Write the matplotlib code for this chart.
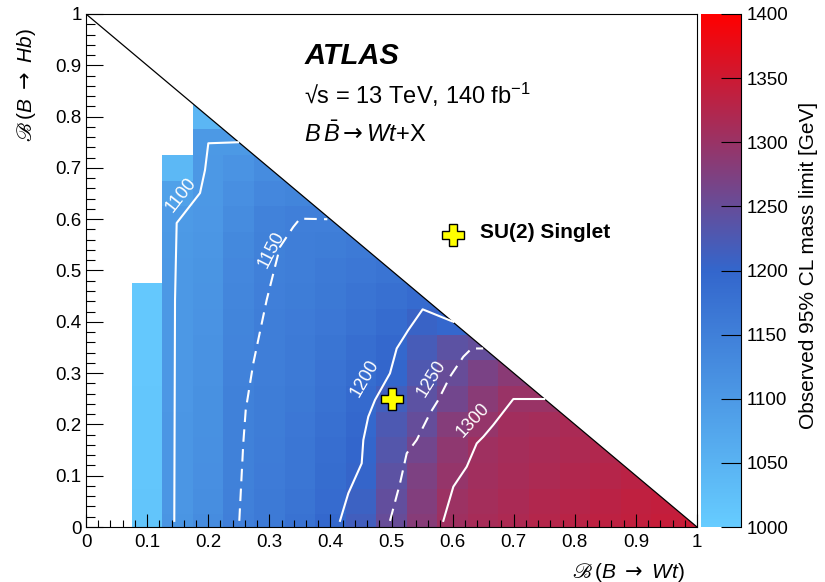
import numpy as np
import matplotlib.pyplot as plt
from matplotlib.colors import LinearSegmentedColormap
from matplotlib.patches import Polygon
from matplotlib.ticker import MultipleLocator, FuncFormatter

plt.rcParams['font.family'] = ['Liberation Sans', 'DejaVu Sans']
plt.rcParams['mathtext.fontset'] = 'custom'
plt.rcParams['mathtext.rm'] = 'Liberation Sans'
plt.rcParams['mathtext.it'] = 'Liberation Sans:italic'
plt.rcParams['mathtext.bf'] = 'Liberation Sans:bold'
plt.rcParams['mathtext.sf'] = 'DejaVu Sans'
plt.rcParams['mathtext.fallback'] = 'stix'

nan = np.nan

# centres des cases (B->Wt en x, B->Hb en y)
x_centers = [0.10, 0.15, 0.20, 0.25, 0.30, 0.35, 0.40, 0.45, 0.50, 0.55,
             0.60, 0.65, 0.70, 0.75, 0.80, 0.85, 0.90, 0.95, 1.00]
y_centers = [0.00, 0.05, 0.10, 0.15, 0.20, 0.25, 0.30, 0.35, 0.40,
             0.45, 0.50, 0.55, 0.60, 0.65, 0.70, 0.75, 0.80]

# limite observee [GeV], une ligne par valeur de y
row_000 = [1015, 1108, 1125, 1151, 1162, 1175, 1196, 1215, 1250, 1282, 1305, 1313, 1319, 1325, 1330, 1335, 1339, 1343, 1346]
row_005 = [1015, 1107, 1122, 1149, 1160, 1173, 1190, 1208, 1246, 1278, 1303, 1310, 1316, 1322, 1327, 1332, 1336, 1340]
row_010 = [1014, 1106, 1120, 1148, 1158, 1170, 1186, 1202, 1240, 1272, 1296, 1307, 1313, 1318, 1323, 1328, 1332]
row_015 = [1013, 1105, 1118, 1148, 1157, 1168, 1183, 1199, 1232, 1261, 1290, 1305, 1311, 1315, 1319, 1323]
row_020 = [1012, 1105, 1117, 1147, 1156, 1166, 1180, 1196, 1225, 1249, 1280, 1296, 1308, 1312, 1316]
row_025 = [1011, 1104, 1116, 1147, 1155, 1164, 1177, 1191, 1213, 1240, 1262, 1284, 1299, 1299]
row_030 = [1010, 1104, 1115, 1146, 1154, 1162, 1174, 1187, 1199, 1228, 1250, 1270, 1285]
row_035 = [1009, 1103, 1113, 1141, 1153, 1160, 1171, 1183, 1196, 1220, 1240, 1248]
row_040 = [1008, 1103, 1112, 1140, 1152, 1158, 1167, 1176, 1188, 1206, 1197]
row_045 = [1008, 1102, 1110, 1138, 1151, 1156, 1164, 1172, 1180, 1190]
row_050 = [nan, 1102, 1108, 1135, 1149, 1154, 1160, 1166, 1172]
row_055 = [nan, 1101, 1106, 1132, 1148, 1152, 1156, 1160]
row_060 = [nan, 1099, 1104, 1126, 1145, 1151, 1151]
row_065 = [nan, 1085, 1103, 1120, 1135, 1140]
row_070 = [nan, 1040, 1102, 1112, 1125]
row_075 = [nan, nan, 1101, 1101]
row_080 = [nan, nan, 1045]
rows = [row_000, row_005, row_010, row_015, row_020, row_025, row_030, row_035, row_040,
        row_045, row_050, row_055, row_060, row_065, row_070, row_075, row_080]

# contours
c1100_x = [0.1445, 0.1457, 0.1484, 0.1866, 0.1948, 0.2002, 0.2490]
c1100_y = [0.012, 0.4425, 0.5926, 0.651, 0.696, 0.748, 0.750]
c1150_x = [0.2509, 0.2574, 0.2614, 0.2738, 0.2957, 0.3175, 0.3393, 0.3502, 0.3950]
c1150_y = [0.012, 0.163, 0.228, 0.319, 0.4425, 0.546, 0.585, 0.601, 0.600]
c1200_x = [0.4157, 0.4293, 0.4512, 0.4539, 0.4620, 0.4730, 0.4975, 0.5085, 0.5275, 0.5510, 0.6012]
c1200_y = [0.012, 0.0657, 0.124, 0.1696, 0.215, 0.2476, 0.2996, 0.348, 0.384, 0.4243, 0.400]
c1250_x = [0.4975, 0.5139, 0.5249, 0.5412, 0.5630, 0.5766, 0.5957, 0.6176, 0.6312, 0.6500]
c1250_y = [0.012, 0.085, 0.1436, 0.1696, 0.2216, 0.2476, 0.293, 0.332, 0.348, 0.348]
c1300_x = [0.5848, 0.6012, 0.6231, 0.6395, 0.6503, 0.6666, 0.6994, 0.7500]
c1300_y = [0.012, 0.0786, 0.1175, 0.163, 0.176, 0.199, 0.2495, 0.2495]

benchmark_x = [0.5, 0.6]
benchmark_y = [0.25, 0.57]

Z = np.full((len(y_centers), len(x_centers)), nan)
for j, row in enumerate(rows):
    Z[j, :len(row)] = row
Z = np.ma.masked_invalid(Z)

x_edges = np.append(np.array(x_centers) - 0.025, x_centers[-1] + 0.025)
y_edges = np.append(np.array(y_centers) - 0.025, y_centers[-1] + 0.025)

cmap = LinearSegmentedColormap.from_list(
    'atlas', [(0.0, '#66ccff'), (0.5, '#3366cc'), (1.0, '#ff0000')])

fig = plt.figure(figsize=(8.25, 5.82), dpi=100)
ax = fig.add_axes([86 / 825, 55 / 582, 611 / 825, 513 / 582])
cax = fig.add_axes([701 / 825, 55 / 582, 40 / 825, 513 / 582])

mesh = ax.pcolormesh(x_edges, y_edges, Z, cmap=cmap, vmin=1000, vmax=1400,
                     shading='flat', edgecolors='none', antialiased=False)
tri = Polygon([(0, 0), (1, 0), (0, 1)], closed=True, transform=ax.transData)
mesh.set_clip_path(tri)

ax.plot([0, 1], [1, 0], color='black', lw=0.9)

# lignes de contour
for cx, cy, ls in [(c1100_x, c1100_y, '-'), (c1150_x, c1150_y, (0, (6, 3.5))),
                   (c1200_x, c1200_y, '-'), (c1250_x, c1250_y, (0, (6, 3.5))),
                   (c1300_x, c1300_y, '-')]:
    ax.plot(cx, cy, color='white', lw=1.5, linestyle=ls)

for txt, lx, ly, rot in [('1100', 0.155, 0.647, 52), ('1150', 0.303, 0.540, 63),
                         ('1200', 0.457, 0.290, 60), ('1250', 0.566, 0.290, 58),
                         ('1300', 0.633, 0.209, 47)]:
    ax.text(lx, ly, txt, color='white', fontsize=13, rotation=rot,
            rotation_mode='anchor', ha='center', va='center')

ax.plot(benchmark_x, benchmark_y, linestyle='none', marker='P', markersize=16,
        markerfacecolor='#ffff00', markeredgecolor='black', markeredgewidth=1)
ax.text(0.645, 0.575, 'SU(2) Singlet', fontsize=15, fontweight='bold', ha='left', va='center')

ax.text(0.357, 0.9035, 'ATLAS', fontsize=21, fontweight='bold', fontstyle='italic', va='baseline')
ax.text(0.357, 0.825, '√s = 13 TeV, 140 fb$^{-1}$', fontsize=17, va='baseline')
ax.text(0.357, 0.75, r'$B\,\bar{B}\mathsf{\rightarrow}Wt$+X', fontsize=17, va='baseline')

ax.set_xlim(0, 1)
ax.set_ylim(0, 1)
fmt = FuncFormatter(lambda v, p: f'{round(v, 2):g}')
for axis in [ax.xaxis, ax.yaxis]:
    axis.set_major_locator(MultipleLocator(0.1))
    axis.set_minor_locator(MultipleLocator(0.02))
    axis.set_major_formatter(fmt)
ax.tick_params(axis='x', which='major', direction='in', length=9.5, width=0.8, pad=5, labelsize=13.5, top=False)
ax.tick_params(axis='x', which='minor', direction='in', length=4.7, width=0.8, top=False)
ax.tick_params(axis='y', which='major', direction='in', length=12, width=0.8, pad=3, labelsize=13.5, right=False)
ax.tick_params(axis='y', which='minor', direction='in', length=6.5, width=0.8, right=False)
for s in ax.spines.values():
    s.set_linewidth(0.8)

ax.text(0.98, -0.088, r'$ℬ\,(B\ \mathsf{\rightarrow}\ Wt)$', transform=ax.transAxes,
        fontsize=15, ha='right', va='center')
ax.text(-0.097, 0.973, r'$ℬ\,(B\ \mathsf{\rightarrow}\ Hb)$', transform=ax.transAxes,
        fontsize=15, ha='right', va='center', rotation=90, rotation_mode='anchor')

cbar = fig.colorbar(mesh, cax=cax)
cbar.outline.set_visible(False)
cbar.set_ticks(np.arange(1000, 1401, 50))
cbar.minorticks_off()
cax.tick_params(direction='in', length=14.5, width=0.8, labelsize=13.5, pad=4, right=True, left=False)
cax.plot([1, 1], [0, 1], transform=cax.transAxes, color='black', lw=0.8, clip_on=False)
cax.text(2.68, 0.51, 'Observed 95% CL mass limit [GeV]', transform=cax.transAxes,
         fontsize=15, rotation=90, ha='center', va='center')

fig.savefig('out.png', dpi=100)
